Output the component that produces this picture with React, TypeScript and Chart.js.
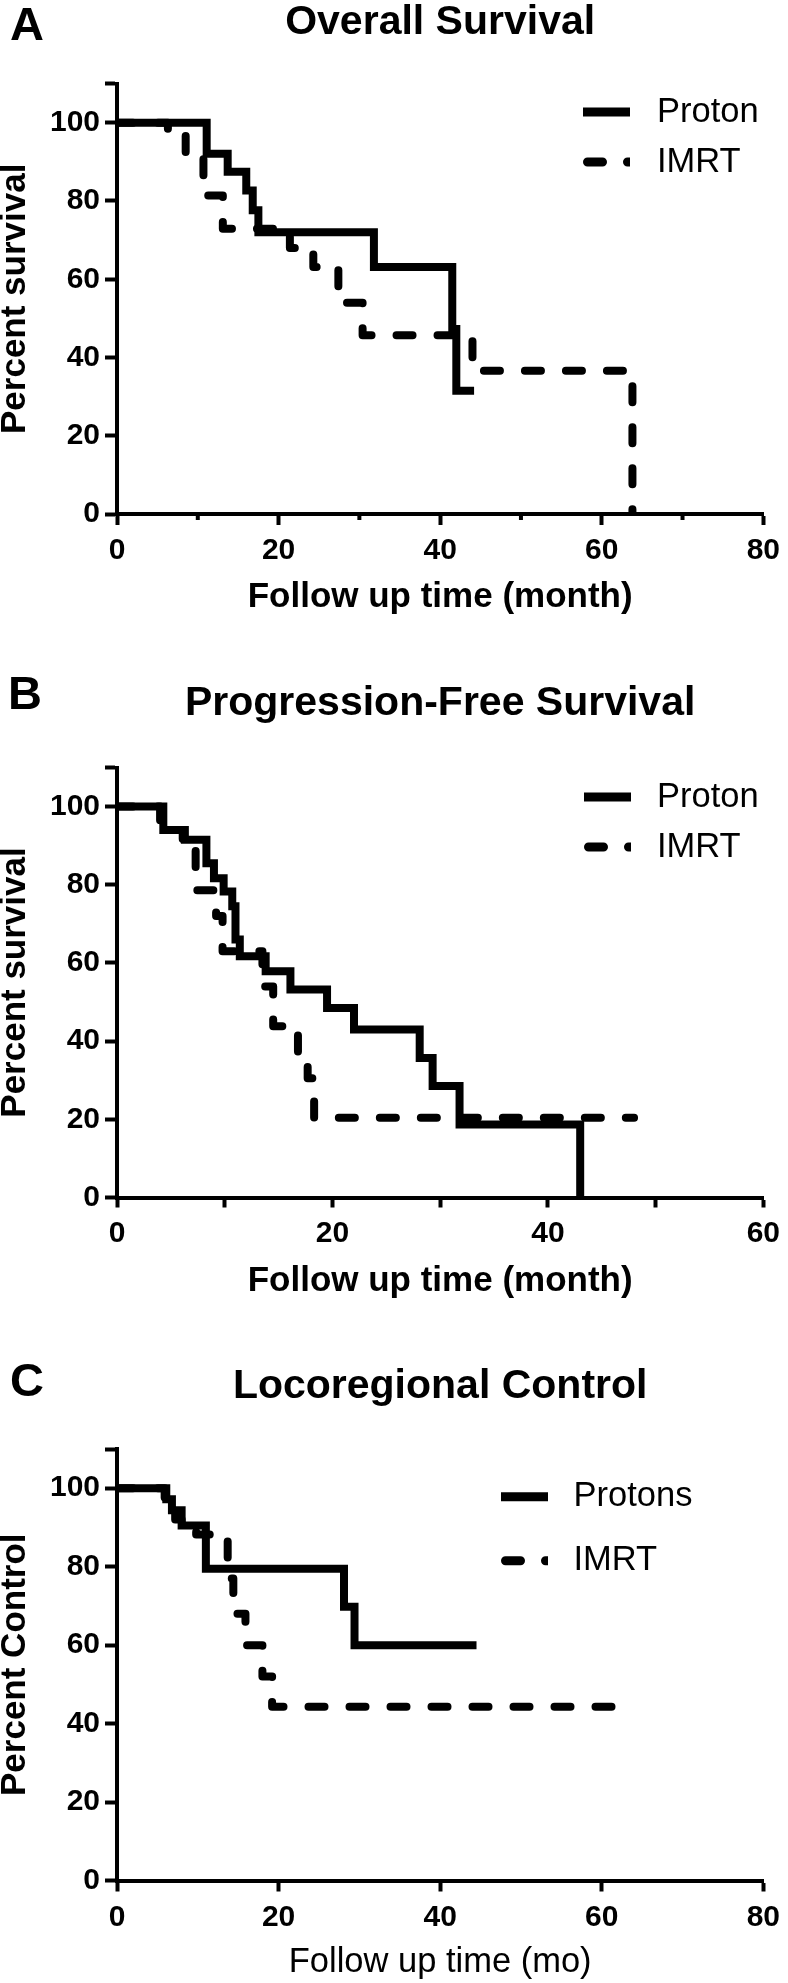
import React, { useEffect, useRef } from "react";
import { Chart, registerables } from "chart.js";

Chart.register(...registerables);

const FONT = "'Liberation Sans', Arial, Helvetica, sans-serif";

// ---------- A. Overall Survival ----------
const osProtonMonths = [0, 11.1, 13.7, 16.0, 16.8, 17.5, 31.8, 41.5, 42.0, 44.2];
const osProtonPercent = [100, 92.1, 87.5, 82.7, 77.6, 72.0, 63.1, 47.3, 31.5, 31.5];
const osImrtMonths = [0, 6.3, 8.5, 10.7, 13.1, 21.4, 24.3, 27.4, 30.4, 44.0, 63.8];
const osImrtPercent = [100, 97.6, 91.6, 81.4, 72.9, 68.0, 63.1, 54.0, 45.7, 36.6, 0];

// ---------- B. Progression-Free Survival ----------
const pfsProtonMonths = [0, 4.3, 6.3, 8.3, 9.0, 9.9, 10.7, 11.0, 11.4, 13.8, 16.1, 19.5, 22.0, 28.1, 29.3, 31.8, 43.0];
const pfsProtonPercent = [100, 94.0, 91.5, 85.5, 81.7, 78.3, 74.5, 66.0, 61.7, 57.9, 53.2, 48.5, 43.0, 35.7, 28.5, 18.7, 0];
const pfsImrtMonths = [0, 4.0, 4.5, 6.1, 7.3, 9.2, 9.8, 13.5, 14.5, 16.8, 17.7, 18.3, 48.0];
const pfsImrtPercent = [100, 96.5, 94.0, 90.6, 78.6, 72.0, 63.0, 54.0, 43.8, 36.6, 30.5, 20.4, 20.4];

// ---------- C. Locoregional Control ----------
const lrcProtonMonths = [0, 6.1, 6.8, 8.0, 11.0, 28.1, 29.4, 44.5];
const lrcProtonPercent = [100, 97.2, 94.4, 90.5, 79.5, 69.8, 60.0, 60.0];
const lrcImrtMonths = [0, 5.9, 6.6, 7.2, 8.0, 9.8, 13.7, 14.4, 15.9, 18.0, 19.2, 63.8];
const lrcImrtPercent = [100, 97.0, 94.5, 92.0, 90.5, 88.2, 77.0, 68.0, 60.0, 52.0, 44.3, 44.3];

// ---------- tick labels / text ----------
const yTickLabels = [0, 20, 40, 60, 80, 100];
const xTickLabels80 = [0, 20, 40, 60, 80];
const xTickLabels60 = [0, 20, 40, 60];
const minorTicksA = [10, 30, 50, 70];
const legendAB = ["Proton", "IMRT"];
const legendC = ["Protons", "IMRT"];

const IMRT_DASH = [16, 25];
const LINE_W = 8;

type Spec = {
  letter: string;
  title: string;
  yTitle: string;
  xTitle: string;
  xTitleBold: boolean;
  xTitleSize: number;
  xMax: number;
  xStep: number;
  xLabels: number[];
  minor: number[];
  legend: string[];
  proton: { x: number; y: number }[];
  imrt: { x: number; y: number }[];
  L: {
    height: number;
    top: number;
    bottom: number;
    right: number;
    xTickLen: number;
    letterX: number;
    letterY: number;
    titleY: number;
    xTitleOffset: number;
    yTitleX: number;
    legendRows: number[];
    legendX0: number;
    legendX1: number;
    legendTextX: number;
  };
};

const pts = (xs: number[], ys: number[]) => xs.map((x, i) => ({ x, y: ys[i] }));

const SPECS: Spec[] = [
  {
    letter: "A",
    title: "Overall Survival",
    yTitle: "Percent survival",
    xTitle: "Follow up time (month)",
    xTitleBold: true,
    xTitleSize: 35,
    xMax: 80,
    xStep: 20,
    xLabels: xTickLabels80,
    minor: minorTicksA,
    legend: legendAB,
    proton: pts(osProtonMonths, osProtonPercent),
    imrt: pts(osImrtMonths, osImrtPercent),
    L: {
      height: 660, top: 83.6, bottom: 514, right: 764, xTickLen: 11,
      letterX: 10, letterY: 40, titleY: 33.5, xTitleOffset: 93, yTitleX: 15,
      legendRows: [112, 162], legendX0: 583, legendX1: 630, legendTextX: 657,
    },
  },
  {
    letter: "B",
    title: "Progression-Free Survival",
    yTitle: "Percent survival",
    xTitle: "Follow up time (month)",
    xTitleBold: true,
    xTitleSize: 35,
    xMax: 60,
    xStep: 10,
    xLabels: xTickLabels60,
    minor: [],
    legend: legendAB,
    proton: pts(pfsProtonMonths, pfsProtonPercent),
    imrt: pts(pfsImrtMonths, pfsImrtPercent),
    L: {
      height: 660, top: 107.5, bottom: 537.5, right: 770, xTickLen: 10,
      letterX: 8, letterY: 48.5, titleY: 54.5, xTitleOffset: 93, yTitleX: 15,
      legendRows: [137, 187], legendX0: 584, legendX1: 631, legendTextX: 657,
    },
  },
  {
    letter: "C",
    title: "Locoregional Control",
    yTitle: "Percent Control",
    xTitle: "Follow up time (mo)",
    xTitleBold: false,
    xTitleSize: 34.5,
    xMax: 80,
    xStep: 20,
    xLabels: xTickLabels80,
    minor: [],
    legend: legendC,
    proton: pts(lrcProtonMonths, lrcProtonPercent),
    imrt: pts(lrcImrtMonths, lrcImrtPercent),
    L: {
      height: 663, top: 129, bottom: 560.5, right: 764, xTickLen: 11,
      letterX: 10, letterY: 76, titleY: 78, xTitleOffset: 91, yTitleX: 15,
      legendRows: [176.7, 240.7], legendX0: 501, legendX1: 548, legendTextX: 573.5,
    },
  },
];

function KMPanel({ spec }: { spec: Spec }) {
  const ref = useRef<HTMLCanvasElement>(null);

  useEffect(() => {
    const canvas = ref.current;
    if (!canvas) return;
    const L = spec.L;

    const decor = {
      id: "decor" + spec.letter,
      afterDraw(chart: any) {
        const ctx: CanvasRenderingContext2D = chart.ctx;
        const a = chart.chartArea;
        const cx = (a.left + a.right) / 2;
        ctx.save();
        ctx.fillStyle = "#000";
        ctx.strokeStyle = "#000";

        // panel letter
        ctx.textAlign = "left";
        ctx.textBaseline = "alphabetic";
        ctx.font = `bold 47px ${FONT}`;
        ctx.fillText(spec.letter, L.letterX, L.letterY);

        // title
        ctx.textAlign = "center";
        ctx.font = `bold 41px ${FONT}`;
        ctx.fillText(spec.title, cx, L.titleY);

        // x title
        ctx.font = `${spec.xTitleBold ? "bold " : ""}${spec.xTitleSize}px ${FONT}`;
        ctx.fillText(spec.xTitle, cx, a.bottom + L.xTitleOffset);

        // y title
        ctx.save();
        ctx.translate(L.yTitleX, (a.top + a.bottom) / 2);
        ctx.rotate(-Math.PI / 2);
        ctx.textBaseline = "middle";
        ctx.font = `bold 35px ${FONT}`;
        ctx.fillText(spec.yTitle, 0, 0);
        ctx.restore();

        // minor ticks
        if (spec.minor.length) {
          const xs = chart.scales.x;
          ctx.lineWidth = 4;
          ctx.lineCap = "butt";
          ctx.beginPath();
          for (const v of spec.minor) {
            const px = xs.getPixelForValue(v);
            ctx.moveTo(px, a.bottom);
            ctx.lineTo(px, a.bottom + 6);
          }
          ctx.stroke();
        }

        // legend
        spec.legend.forEach((label, i) => {
          const y = L.legendRows[i];
          const dashed = i === 1;
          ctx.save();
          ctx.beginPath();
          ctx.rect(L.legendX0, y - 10, L.legendX1 - L.legendX0, 20);
          ctx.clip();
          ctx.lineWidth = 9;
          ctx.lineCap = dashed ? "round" : "butt";
          ctx.setLineDash(dashed ? [15, 25] : []);
          ctx.beginPath();
          ctx.moveTo(dashed ? L.legendX0 + 4.5 : L.legendX0, y);
          ctx.lineTo(L.legendX1 + 30, y);
          ctx.stroke();
          ctx.restore();
          ctx.textAlign = "left";
          ctx.textBaseline = "middle";
          ctx.font = `34.5px ${FONT}`;
          ctx.fillText(label, L.legendTextX, y);
        });

        ctx.restore();
      },
    };

    const tickFont = { family: FONT, size: 30, weight: "bold" as const, lineHeight: 1.2 };

    const chart = new Chart(canvas, {
      type: "line",
      data: {
        datasets: [
          {
            label: spec.legend[1],
            data: spec.imrt,
            stepped: "before",
            borderColor: "#000",
            borderWidth: LINE_W,
            borderDash: IMRT_DASH,
            borderCapStyle: "round",
            borderJoinStyle: "round",
            pointRadius: 0,
            fill: false,
          },
          {
            label: spec.legend[0],
            data: spec.proton,
            stepped: "before",
            borderColor: "#000",
            borderWidth: LINE_W,
            borderCapStyle: "butt",
            borderJoinStyle: "miter",
            pointRadius: 0,
            fill: false,
          },
        ],
      },
      options: {
        animation: false,
        responsive: false,
        maintainAspectRatio: false,
        events: [],
        layout: { padding: { top: L.top, right: 788 - L.right, left: 0, bottom: 0 } },
        plugins: {
          legend: { display: false },
          title: { display: false },
          tooltip: { enabled: false },
        },
        scales: {
          x: {
            type: "linear",
            min: 0,
            max: spec.xMax,
            border: { display: true, width: 4, color: "#000" },
            grid: {
              display: true,
              drawOnChartArea: false,
              drawTicks: true,
              tickLength: L.xTickLen,
              tickWidth: 4,
              tickColor: "#000",
              color: "#000",
            },
            ticks: {
              stepSize: spec.xStep,
              autoSkip: false,
              maxRotation: 0,
              minRotation: 0,
              padding: 8,
              color: "#000",
              font: tickFont,
              callback: (v: any) => (spec.xLabels.includes(Number(v)) ? String(v) : ""),
            },
            afterFit: (s: any) => {
              s.height = L.height - L.bottom;
            },
          },
          y: {
            type: "linear",
            min: 0,
            max: 110,
            bounds: "data",
            border: { display: true, width: 4, color: "#000" },
            grid: {
              display: true,
              drawOnChartArea: false,
              drawTicks: true,
              tickLength: 12,
              tickWidth: 4,
              tickColor: "#000",
              color: "#000",
            },
            ticks: {
              stepSize: 20,
              includeBounds: false,
              padding: 5,
              color: "#000",
              font: tickFont,
              callback: (v: any) => (yTickLabels.includes(Number(v)) ? String(v) : ""),
            },
            afterFit: (s: any) => {
              s.width = 117;
            },
          },
        },
      } as any,
      plugins: [decor],
    });

    return () => chart.destroy();
  }, [spec]);

  return (
    <canvas
      ref={ref}
      width={788}
      height={spec.L.height}
      style={{ display: "block", width: 788, height: spec.L.height }}
    />
  );
}

export default function App() {
  useEffect(() => {
    document.body.style.margin = "0";
    document.body.style.background = "#fff";
  }, []);
  return (
    <div style={{ width: 788, background: "#fff" }}>
      {SPECS.map((s) => (
        <KMPanel key={s.letter} spec={s} />
      ))}
    </div>
  );
}
